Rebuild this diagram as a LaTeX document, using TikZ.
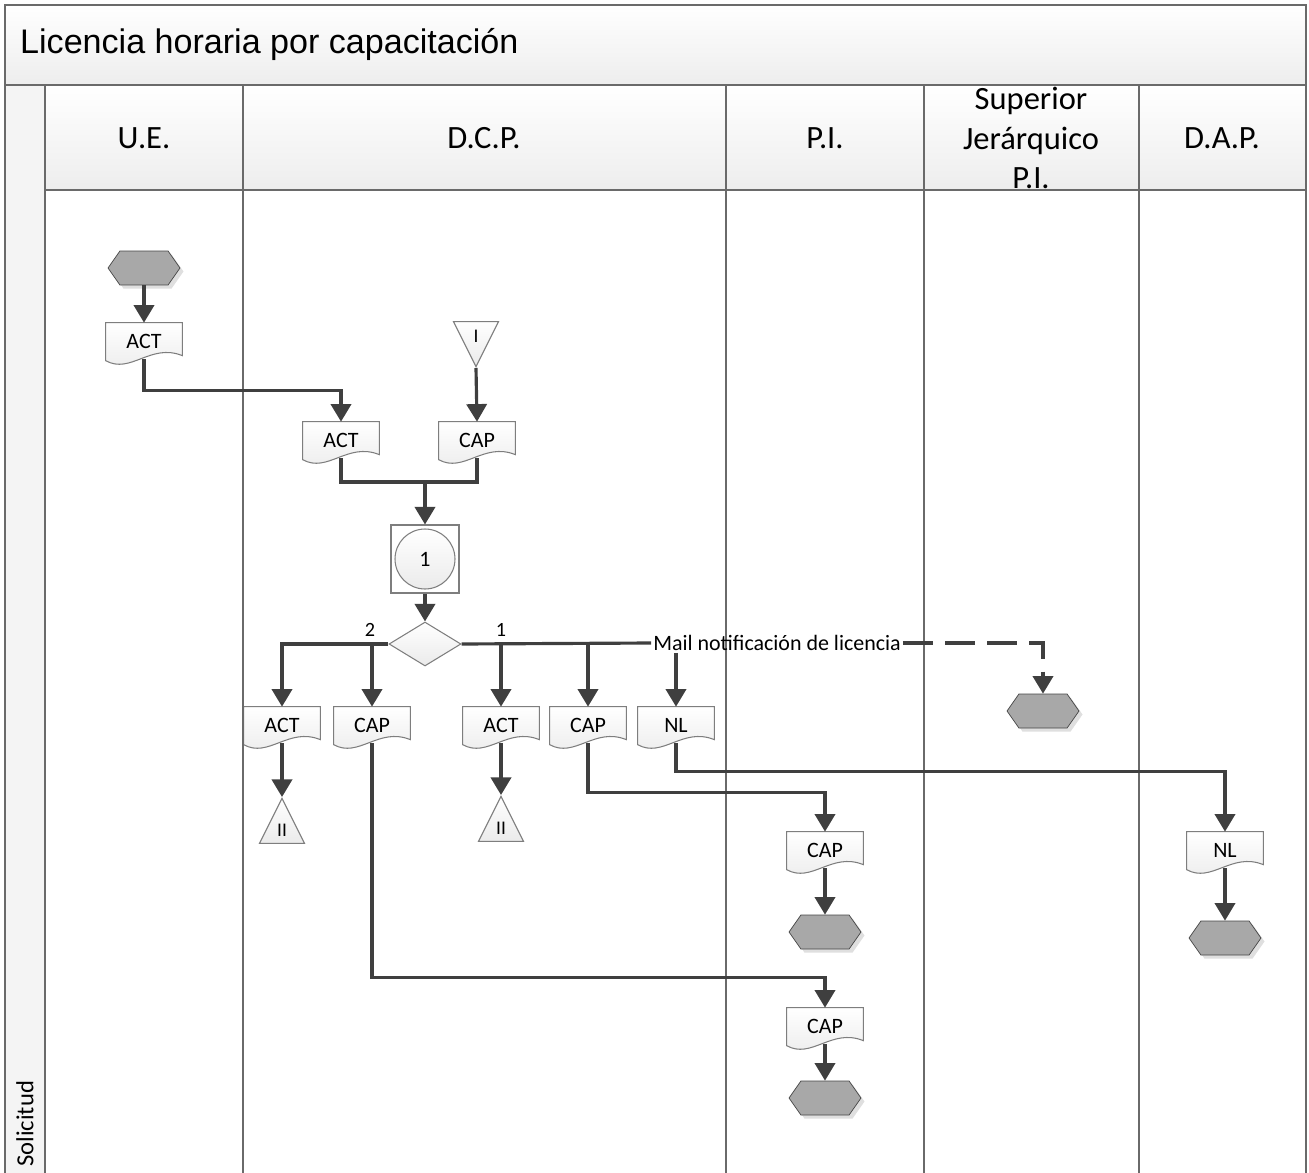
\documentclass[tikz,border=0pt]{standalone}
\usepackage{fontspec}
\setmainfont{Carlito}
\newfontfamily\titlefont{Liberation Sans}
\usetikzlibrary{arrows.meta,positioning,calc,shapes.geometric,shapes.symbols,shadows}
\pgfdeclarelayer{bg}
\pgfsetlayers{bg,main}
\definecolor{lanegray}{HTML}{6A6A6A}
\definecolor{shapegray}{HTML}{7E7E7E}
\definecolor{linegray}{HTML}{3F3F3F}
\definecolor{termfill}{HTML}{A8A8A8}

\begin{document}
\begin{tikzpicture}[
    x=0.02cm, y=-0.02cm,
    font=\fontsize{12.5}{14}\selectfont,
    band/.style={draw=lanegray,line width=1pt,top color=white,bottom color=gray!14},
    lane/.style={draw=lanegray,line width=1pt},
    lanehead/.style={align=center,font=\fontsize{18.5}{22.7}\selectfont},
    doc/.style={minimum width=1.52cm,minimum height=0.72cm,inner sep=0pt},
    docline/.style={draw=shapegray,line width=0.6pt,top color=white,bottom color=gray!16},
    term/.style={signal,signal to=east and west,signal pointer angle=110,draw=gray!55!black,fill=termfill,minimum width=1.44cm,minimum height=0.68cm,inner sep=0pt,drop shadow={opacity=0.25,shadow xshift=2pt,shadow yshift=-2pt}},
    offpage/.style={isosceles triangle,isosceles triangle stretches,draw=shapegray,line width=0.6pt,top color=white,bottom color=gray!16,minimum width=0.9cm,minimum height=0.9cm,inner sep=1pt,font=\fontsize{11}{12}\selectfont},
    subbox/.style={draw=shapegray,line width=0.6pt,minimum size=1.36cm,inner sep=0pt},
    subcirc/.style={circle,draw=shapegray,line width=0.6pt,top color=white,bottom color=gray!16,minimum size=1.2cm,inner sep=0pt},
    choice/.style={diamond,draw=shapegray,line width=0.6pt,top color=white,bottom color=gray!16,minimum width=1.44cm,minimum height=0.88cm,inner sep=0pt},
    flow/.style={draw=linegray,line width=1.8pt},
    link/.style={flow,-{Triangle[length=10pt,width=11.5pt]}},
    msg/.style={link,dash pattern=on 17pt off 7pt}
]
\useasboundingbox (0,0) rectangle (1309,1173);
\fill[gray!9] (5,85) rectangle (45,1173);
\draw[band] (5,5) rectangle (1306,85);
\foreach \a/\b in {45/243,243/726,726/924,924/1139,1139/1306}
  \draw[band] (\a,85) rectangle (\b,190);
\foreach \x in {5,45,243,726,924,1139,1306}
  \draw[lane] (\x,85) -- (\x,1173);
\node[anchor=west,font=\titlefont\fontsize{19.4}{22}\selectfont] (title) at (14,44) {Licencia horaria por capacitación};
\node[lanehead] (hue) at (144,138) {U.E.};
\node[lanehead] (hdcp) at (484,138) {D.C.P.};
\node[lanehead] (hpi) at (825,138) {P.I.};
\node[lanehead] (hsup) at (1031,138) {Superior\\Jerárquico\\P.I.};
\node[lanehead] (hdap) at (1222,138) {D.A.P.};
\node[rotate=90,anchor=west,inner sep=0pt,font=\fontsize{14}{16}\selectfont] (pool) at (25,1167) {Solicitud};

\node[term] (start) at (144,268) {};
\node[doc] (act1) at (144,341) {ACT};
\node[offpage,shape border rotate=270,anchor=apex] (tri1) at (476,368) {I};
\node[doc] (act2) at (341,440) {ACT};
\node[doc] (cap1) at (477,440) {CAP};
\coordinate (join) at (425,482);
\node[subbox] (sub) at (425,559) {};
\node[subcirc] (subc) at (sub.center) {1};
\node[choice] (dec) at (425,644) {};
\node[font=\fontsize{11.5}{12}\selectfont] (lbltwo) at (370,630) {2};
\node[font=\fontsize{11.5}{12}\selectfont] (lblone) at (501,630) {1};
\node[inner sep=1pt] (mail) at (777,643) {Mail notificación de licencia};
\node[term] (end1) at (1043,711) {};
\node[doc] (act3) at (282,725) {ACT};
\node[doc] (cap2) at (372,725) {CAP};
\node[doc] (act4) at (501,725) {ACT};
\node[doc] (cap3) at (588,725) {CAP};
\node[doc] (nl1) at (676,725) {NL};
\node[offpage,shape border rotate=90,anchor=apex] (tri2) at (282,797) {II};
\node[offpage,shape border rotate=90,anchor=apex] (tri3) at (501,795) {II};
\node[doc] (cap4) at (825,850) {CAP};
\node[term] (end2) at (825,932) {};
\node[doc] (nl2) at (1225,850) {NL};
\node[term] (end3) at (1225,938) {};
\node[doc] (cap5) at (825,1026) {CAP};
\node[term] (end4) at (825,1098) {};

\begin{pgfonlayer}{bg}
\foreach \n in {act1,act2,cap1,act3,cap2,act4,cap3,nl1,cap4,nl2,cap5}
  \draw[docline] (\n.north west) -- (\n.north east) -- ($(\n.north east)+(0,33)$)
    .. controls ($(\n.north west)+(45,20)$) and ($(\n.north west)+(25,52)$) .. ($(\n.north west)+(0,38)$) -- cycle;
\end{pgfonlayer}

\draw[link] (start) -- (act1);
\draw[link] (act1.south) |- ($(act1.south)!0.5!(act2.north)$) -| (act2.north);
\draw[link] (tri1.apex) -- (cap1.north);
\draw[flow] (act2.south) |- (join) -| (cap1.south);
\draw[link] (join) -- (sub.north);
\draw[link] (sub.south) -- (dec.north);
\draw[link] (dec.west) -| (act3.north);
\draw[link] (dec.west -| cap2.north) -- (cap2.north);
\draw[flow] (dec.east) -- (mail.west);
\draw[link] (dec.east -| act4.north) -- (act4.north);
\draw[link] (dec.east -| cap3.north) -- (cap3.north);
\draw[link] (mail.south -| nl1.north) -- (nl1.north);
\draw[msg] (mail.east) -| (end1.north);
\draw[link] (act3.south) -- (tri2.apex);
\draw[link] (act4.south) -- (tri3.apex);
\draw[link] (cap3.south) |- ($(cap4.north)+(0,-39)$) -- (cap4.north);
\draw[link] (nl1.south) |- ($(nl2.north)+(0,-60)$) -- (nl2.north);
\draw[link] (cap2.south) |- ($(cap5.north)+(0,-30)$) -- (cap5.north);
\draw[link] (cap4.south) -- (end2.north);
\draw[link] (nl2.south) -- (end3.north);
\draw[link] (cap5.south) -- (end4.north);
\end{tikzpicture}
\end{document}
